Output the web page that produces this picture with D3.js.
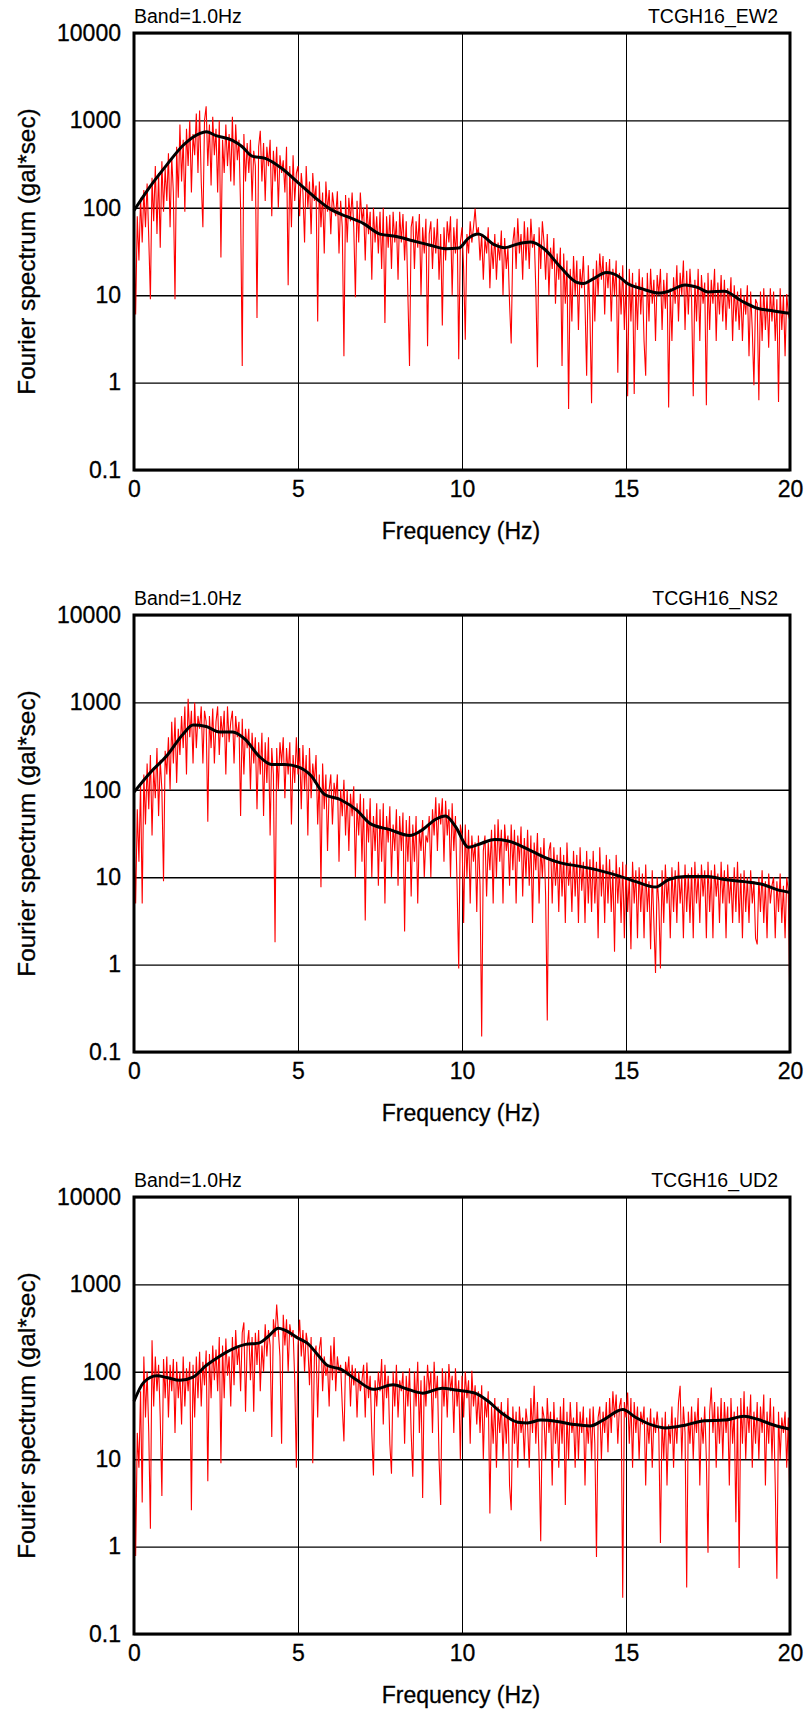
<!DOCTYPE html>
<html>
<head>
<meta charset="utf-8">
<script src="https://cdn.jsdelivr.net/npm/d3@7.9.0/dist/d3.min.js"></script>
<style>
  body { margin: 0; background: #fff; }
  svg { display: block; font-family: "Liberation Sans", Arial, sans-serif; }
</style>
</head>
<body>
<svg id="chart" width="810" height="1718"></svg>
<script>
// axis ticks
const yTicks = [0.1, 1, 10, 100, 1000, 10000];
const yTickLabels = ['0.1', '1', '10', '100', '1000', '10000'];
const xTicks = [0, 5, 10, 15, 20];
const bandText = 'Band=1.0Hz';
const stations = ['TCGH16_EW2', 'TCGH16_NS2', 'TCGH16_UD2'];

// raw spectra, one value every 0.05 Hz from 0 to 20 Hz (gal*sec)
const freqStep = 0.05;

const ewRaw = [
  50, 6, 80, 25, 130, 40, 160, 60, 190, 45,
  9, 220, 70, 300, 50, 250, 35, 340, 90, 280,
  120, 420, 60, 380, 150, 9, 500, 130, 900, 200,
  600, 90, 800, 300, 1000, 150, 700, 400, 1200, 250,
  1300, 200, 60, 1000, 1450, 300, 900, 180, 1100, 400,
  800, 150, 1000, 27, 600, 250, 900, 300, 700, 200,
  1100, 180, 900, 350, 600, 100, 1.55, 700, 200, 550,
  250, 600, 120, 450, 300, 5.5, 500, 760, 200, 550,
  120, 500, 300, 600, 80, 450, 200, 500, 100, 400,
  250, 350, 150, 500, 13, 300, 60, 400, 120, 250,
  300, 80, 250, 150, 40, 300, 100, 200, 50, 250,
  120, 180, 5, 200, 60, 150, 30, 200, 90, 160,
  50, 150, 100, 80, 155, 30, 120, 60, 2.0, 140,
  40, 130, 70, 150, 60, 9.5, 120, 40, 150, 70,
  100, 25, 110, 50, 90, 15, 100, 40, 80, 30,
  90, 20, 100, 4.8, 80, 35, 83, 20, 90, 40,
  70, 15, 90, 40, 85, 25, 70, 10, 1.55, 60,
  80, 20, 70, 35, 85, 10, 60, 30, 75, 2.6,
  50, 70, 20, 60, 30, 75, 15, 50, 4.5, 60,
  25, 70, 40, 80, 10, 60, 30, 75, 1.85, 40,
  60, 20, 3.1, 50, 30, 70, 40, 60, 98, 50,
  60, 25, 50, 15, 45, 30, 60, 12, 40, 20,
  50, 15, 40, 25, 55, 10, 45, 20, 35, 8,
  2.8, 40, 60, 20, 76, 30, 50, 15, 70, 25,
  60, 20, 75, 35, 50, 12, 1.5, 60, 20, 70,
  40, 15, 50, 10, 35, 20, 45, 8, 30, 15,
  35, 1.55, 30, 8, 25, 0.5, 20, 5, 28, 10,
  25, 4, 20, 12, 28, 8, 1.2, 22, 6, 0.58,
  20, 5, 25, 10, 30, 15, 28, 6, 24, 12,
  26, 5, 20, 10, 25, 1.3, 18, 6, 22, 4,
  15, 0.7, 20, 5, 18, 0.74, 14, 4, 20, 6,
  16, 3, 1.2, 18, 5, 20, 8, 15, 3, 17,
  10, 20, 4, 15, 7, 18, 0.52, 12, 3, 16,
  8, 22, 5, 18, 10, 25, 4, 19, 6, 20,
  9, 0.7, 15, 5, 20, 3, 17, 8, 14, 0.55,
  18, 4, 15, 8, 20, 3, 14, 6, 17, 5,
  15, 4, 12, 7, 16, 3, 13, 5, 11, 4,
  12, 3, 10, 6, 13, 2, 11, 4, 0.93, 9,
  8, 0.63, 11, 3, 12, 4, 10, 2.5, 12, 5,
  11, 3, 9, 0.6, 12, 4, 10, 2, 10.3, 6,
  5
];

const nsRaw = [
  30, 5, 60, 15, 120, 5, 150, 40, 200, 60,
  250, 30, 180, 80, 300, 50, 220, 100, 9, 280,
  150, 400, 100, 600, 200, 670, 120, 500, 250, 700,
  300, 900, 150, 1100, 400, 800, 200, 1000, 300, 700,
  500, 900, 200, 800, 600, 43, 700, 300, 850, 200,
  600, 900, 250, 700, 400, 800, 150, 900, 350, 600,
  800, 200, 700, 400, 600, 50, 650, 150, 500, 300,
  500, 100, 450, 200, 400, 60, 350, 150, 450, 50,
  350, 120, 400, 30, 300, 150, 1.8, 300, 100, 350,
  200, 400, 80, 300, 150, 350, 40, 250, 120, 400,
  150, 300, 60, 325, 100, 250, 30, 300, 80, 200,
  120, 250, 40, 150, 7.7, 200, 60, 150, 20, 100,
  150, 40, 120, 80, 150, 15, 100, 50, 130, 30,
  100, 20, 90, 50, 110, 10, 70, 30, 90, 15,
  80, 3.2, 60, 25, 80, 10, 50, 20, 70, 8,
  60, 15, 70, 5, 50, 25, 65, 10, 40, 20,
  60, 8, 50, 20, 55, 2.4, 45, 15, 50, 6,
  40, 15, 50, 5, 35, 20, 45, 10, 30, 25,
  50, 10, 60, 30, 82, 20, 70, 40, 80, 15,
  75, 30, 60, 10, 70, 20, 50, 8, 0.9, 40,
  30, 3, 40, 10, 35, 5, 30, 15, 25, 4,
  30, 8, 0.15, 20, 30, 6, 25, 12, 35, 5,
  40, 10, 46, 15, 35, 5, 40, 20, 30, 8,
  40, 12, 35, 5, 30, 15, 38, 6, 28, 10,
  35, 8, 30, 3, 25, 12, 32, 5, 22, 10,
  28, 6, 0.23, 20, 25, 5, 22, 8, 18, 4,
  22, 6, 18, 3, 25, 8, 15, 4, 20, 6,
  18, 3, 22, 7, 15, 3, 20, 5, 16, 4,
  20, 5, 15, 2, 22, 6, 14, 3, 18, 5,
  16, 4, 12, 1.4, 18, 5, 13, 3, 15, 2,
  14, 4, 10, 1.5, 15, 5, 12, 2, 13, 4,
  11, 2, 14, 4, 9, 1.5, 12, 3, 0.8, 10,
  5, 0.9, 12, 3, 14, 5, 10, 2, 13, 4,
  12, 3, 15, 5, 10, 2, 14, 4, 11, 3,
  13, 2, 15, 5, 11, 3, 14, 6, 12, 2,
  15, 4, 12, 2, 14, 6, 11, 3, 15, 5,
  12, 2, 14, 5, 10, 3, 13, 4, 15, 3,
  11, 2, 12, 4, 10, 3, 12, 5, 9, 2,
  1.7, 10, 4, 12, 3, 9, 2, 11, 5, 8,
  10, 2, 9, 4, 11, 3, 8, 2, 10, 7,
  0.23
];

const udRaw = [
  40, 0.78, 20, 8, 60, 3.2, 150, 30, 100, 20,
  1.6, 230, 40, 150, 60, 120, 30, 3.8, 140, 50,
  150, 30, 120, 60, 140, 20, 130, 50, 100, 25,
  150, 40, 110, 60, 130, 2.6, 120, 30, 150, 50,
  170, 40, 130, 70, 175, 5.6, 160, 50, 200, 80,
  180, 60, 250, 9, 200, 50, 240, 90, 150, 40,
  250, 70, 300, 120, 200, 60, 280, 367, 35, 200,
  300, 80, 250, 35, 280, 120, 300, 60, 200, 100,
  350, 150, 300, 200, 18, 400, 250, 590, 300, 150,
  15, 450, 200, 400, 100, 350, 250, 300, 80, 8,
  200, 395, 150, 300, 100, 280, 200, 70, 250, 9,
  150, 200, 30, 180, 250, 60, 150, 90, 120, 40,
  200, 80, 250, 60, 150, 100, 120, 40, 16, 130,
  90, 150, 40, 120, 70, 110, 30, 100, 60, 80,
  120, 30, 128, 50, 90, 20, 6.5, 80, 40, 100,
  60, 140, 25, 120, 50, 90, 15, 6.8, 100, 40,
  120, 30, 80, 60, 100, 15, 90, 40, 110, 20,
  6.3, 100, 40, 130, 20, 80, 3.6, 90, 40, 120,
  60, 100, 20, 130, 50, 90, 10, 3.0, 110, 40,
  100, 30, 123, 60, 90, 20, 110, 40, 80, 10,
  90, 30, 100, 50, 80, 15, 103, 40, 70, 25,
  60, 20, 70, 10, 50, 30, 60, 2.4, 40, 15,
  50, 8, 40, 20, 45, 10, 35, 15, 50, 5,
  2.6, 40, 15, 35, 8, 40, 20, 30, 10, 38,
  25, 8, 50, 20, 69, 15, 45, 10, 1.15, 40,
  30, 10, 50, 20, 35, 5, 45, 15, 30, 8,
  40, 15, 50, 3, 35, 10, 45, 20, 30, 8,
  45, 10, 35, 20, 40, 5, 30, 15, 38, 10,
  40, 15, 0.76, 30, 40, 10, 35, 20, 45, 12,
  50, 20, 60, 30, 55, 15, 40, 50, 0.26, 45,
  30, 58, 15, 50, 8, 45, 20, 40, 10, 35,
  25, 40, 5, 30, 15, 38, 8, 30, 20, 35,
  20, 1.1, 30, 10, 35, 5, 25, 15, 40, 8,
  30, 15, 45, 69, 10, 40, 20, 0.34, 35, 15,
  40, 10, 35, 20, 50, 5, 30, 15, 40, 10,
  0.85, 35, 66, 20, 45, 8, 40, 15, 50, 10,
  45, 20, 40, 5, 50, 15, 35, 1.9, 40, 0.57,
  50, 15, 60, 10, 40, 20, 55, 8, 35, 15,
  45, 10, 40, 20, 55, 5, 35, 15, 50, 10,
  40, 5, 0.43, 35, 10, 30, 20, 35, 8, 30,
  2.2
];

// smoothed (Band=1.0Hz) spectra
const ewSmoothF = [0, 0.5, 1, 1.5, 2, 2.2, 2.5, 3, 3.3, 3.6, 4, 4.5, 5, 5.5, 6, 6.5, 7, 7.5, 8, 8.5, 9, 9.5, 9.9, 10.2, 10.5, 11, 11.3, 11.7, 12.1, 12.5, 13, 13.5, 13.7, 14, 14.4, 14.8, 15, 15.5, 16, 16.3, 16.8, 17.2, 17.5, 18, 18.5, 19, 19.5, 20];
const ewSmoothV = [93, 177, 310, 520, 706, 740, 670, 590, 500, 390, 367, 283, 194, 133, 96, 79, 66, 50, 47, 42, 37.6, 34, 34.6, 45, 50, 37.6, 35, 38.6, 40.5, 34, 21, 14, 13.6, 15.4, 18.2, 16.2, 14, 11.8, 10.6, 11.1, 13.1, 12.2, 10.9, 11.1, 8.7, 7.1, 6.6, 6.2];

const nsSmoothF = [0, 0.5, 1, 1.5, 1.8, 2.2, 2.6, 3, 3.4, 3.8, 4.2, 4.6, 5, 5.4, 5.8, 6.3, 6.8, 7.2, 7.8, 8.4, 8.8, 9.2, 9.5, 9.8, 10.2, 10.6, 11, 11.4, 12, 12.5, 13, 13.6, 14.2, 14.8, 15.3, 15.9, 16.3, 16.8, 17.5, 18, 18.6, 19.2, 19.6, 20];
const nsSmoothV = [94, 158, 245, 435, 550, 530, 460, 460, 375, 245, 195, 195, 183, 145, 89, 77, 58, 41, 35, 30, 35, 46, 50, 38, 22, 24.5, 27, 26, 21, 17, 14.6, 13.3, 11.9, 10.3, 8.9, 7.7, 9.4, 10.2, 10.2, 9.4, 8.9, 8.2, 7.2, 6.7];

const udSmoothF = [0, 0.3, 0.7, 1, 1.4, 1.8, 2.2, 2.6, 3, 3.4, 3.8, 4.1, 4.4, 4.6, 5, 5.3, 5.6, 5.9, 6.3, 6.8, 7.3, 7.9, 8.3, 8.8, 9.4, 9.8, 10.4, 10.8, 11.2, 11.7, 12, 12.4, 12.9, 13.4, 13.9, 14.3, 14.9, 15.3, 15.8, 16.2, 16.8, 17.4, 18, 18.6, 19, 19.5, 20];
const udSmoothV = [46, 76, 90, 86, 80, 87, 118, 150, 182, 206, 213, 255, 315, 300, 243, 210, 157, 118, 107, 80, 63, 71, 64, 57, 65, 62, 57, 46, 34, 26.5, 26, 28, 27, 25, 24, 28, 37, 30, 24.5, 22.8, 24.5, 27.6, 28, 31, 28.7, 24.6, 22];

const panels = [
  { name: stations[0], raw: ewRaw, sf: ewSmoothF, sv: ewSmoothV },
  { name: stations[1], raw: nsRaw, sf: nsSmoothF, sv: nsSmoothV },
  { name: stations[2], raw: udRaw, sf: udSmoothF, sv: udSmoothV },
];

const margin = { left: 134, top: 33 };
const width = 656;
const height = 437;
const panelGap = 582;

const svg = d3.select('#chart');

const x = d3.scaleLinear().domain([0, 20]).range([0, width]);
const y = d3.scaleLog().domain([0.1, 10000]).range([height, 0]);

panels.forEach((p, i) => {
  const g = svg.append('g')
    .attr('transform', `translate(${margin.left},${margin.top + i * panelGap})`);

  const clipId = 'clip' + i;
  g.append('clipPath').attr('id', clipId)
    .append('rect').attr('width', width).attr('height', height);

  // vertical grid
  g.append('g')
    .attr('class', 'xgrid')
    .call(d3.axisBottom(x).tickValues(xTicks).tickSize(height).tickFormat(''))
    .call(s => s.select('.domain').remove())
    .call(s => s.selectAll('line').attr('stroke', '#000').attr('stroke-width', 1));

  // horizontal grid
  g.append('g')
    .attr('class', 'ygrid')
    .call(d3.axisLeft(y).tickValues(yTicks).tickSize(-width).tickFormat(''))
    .call(s => s.select('.domain').remove())
    .call(s => s.selectAll('line').attr('stroke', '#000').attr('stroke-width', 1.4));

  // raw spectrum
  const rawLine = d3.line()
    .x((d, j) => x(j * freqStep))
    .y(d => y(d));
  g.append('path')
    .datum(p.raw)
    .attr('clip-path', `url(#${clipId})`)
    .attr('fill', 'none')
    .attr('stroke', '#ff0000')
    .attr('stroke-width', 1.1)
    .attr('d', rawLine);

  // smoothed spectrum
  const smooth = d3.line()
    .x(d => x(d[0]))
    .y(d => y(d[1]))
    .curve(d3.curveMonotoneX);
  g.append('path')
    .datum(d3.zip(p.sf, p.sv))
    .attr('fill', 'none')
    .attr('stroke', '#000')
    .attr('stroke-width', 3)
    .attr('stroke-linejoin', 'round')
    .attr('d', smooth);

  // frame
  g.append('rect')
    .attr('width', width)
    .attr('height', height)
    .attr('fill', 'none')
    .attr('stroke', '#000')
    .attr('stroke-width', 3);

  // y tick labels
  g.append('g')
    .call(d3.axisLeft(y).tickValues(yTicks).tickSize(0).tickPadding(13)
      .tickFormat((d, k) => yTickLabels[k]))
    .call(s => s.select('.domain').remove())
    .call(s => s.selectAll('text')
      .attr('font-family', '"Liberation Sans", Arial, sans-serif')
      .attr('font-size', 23).attr('fill', '#000')
      .attr('stroke', '#000').attr('stroke-width', 0.3));

  // x tick labels
  g.append('g')
    .attr('transform', `translate(0,${height})`)
    .call(d3.axisBottom(x).tickValues(xTicks).tickSize(0).tickPadding(11)
      .tickFormat(d3.format('d')))
    .call(s => s.select('.domain').remove())
    .call(s => s.selectAll('text')
      .attr('font-family', '"Liberation Sans", Arial, sans-serif')
      .attr('font-size', 23).attr('fill', '#000')
      .attr('stroke', '#000').attr('stroke-width', 0.3));

  // titles
  g.append('text')
    .attr('x', 0).attr('y', -10)
    .attr('font-size', 19.5)
    .text(bandText);
  g.append('text')
    .attr('x', width - 12).attr('y', -10)
    .attr('text-anchor', 'end')
    .attr('font-size', 19.5)
    .text(p.name);

  // axis titles
  g.append('text')
    .attr('x', width / 2 - 1).attr('y', height + 69)
    .attr('text-anchor', 'middle')
    .attr('font-size', 23)
    .attr('stroke', '#000').attr('stroke-width', 0.3)
    .text('Frequency (Hz)');
  g.append('text')
    .attr('transform', `translate(${35 - margin.left},${height / 2}) rotate(-90)`)
    .attr('text-anchor', 'middle')
    .attr('font-size', 24.3)
    .attr('stroke', '#000').attr('stroke-width', 0.3)
    .text('Fourier spectrum (gal*sec)');
});
</script>
</body>
</html>
